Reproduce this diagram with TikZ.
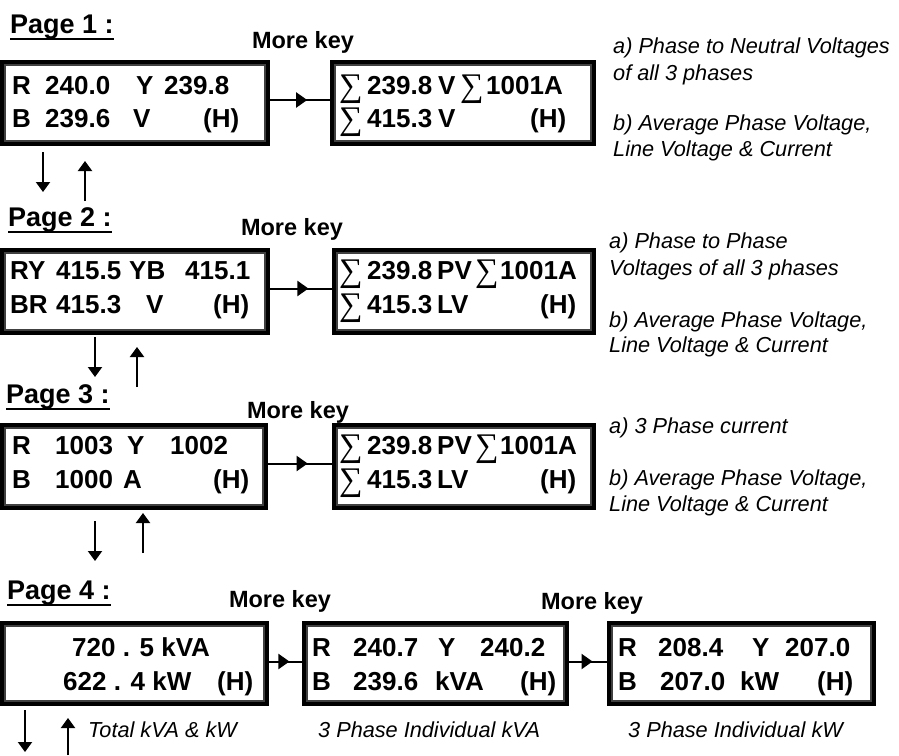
\documentclass[tikz,border=0pt]{standalone}
\usepackage{fontspec}
\setmainfont{Liberation Sans}
\newfontfamily\sumfont{Liberation Serif}
\usetikzlibrary{arrows.meta,decorations.markings}
\tikzset{
 lcd/.style={draw, line width=4pt, inner sep=0pt},
 lcdin/.style={draw=black!75, line width=1.3pt},
 val/.style={anchor=base west, inner sep=0pt, font=\fontsize{26}{30}\selectfont\bfseries},
 sumsym/.style={anchor=base west, inner sep=0pt, font=\sumfont\fontsize{33}{40}\selectfont},
 pagelbl/.style={anchor=base west, inner sep=0pt, font=\fontsize{27}{30}\selectfont\bfseries},
 morekey/.style={anchor=base, inner sep=0pt, font=\fontsize{23.5}{26}\selectfont\bfseries},
 note/.style={anchor=base west, inner sep=0pt, font=\fontsize{21.7}{25}\selectfont\itshape},
 conn/.style={line width=2pt, postaction={decorate}, decoration={markings, mark=at position 0.62 with {\arrow{Triangle[length=11pt,width=15pt]}}}},
 varrow/.style={line width=2pt, -{Triangle[length=10pt,width=14pt]}},
 uline/.style={line width=2pt},
}
\newcommand\lcdbox[5]{%
 \node[lcd, minimum width=#4pt, minimum height=#5pt] (#1) at (#2,#3) {};
 \draw[lcdin] ([shift={(5,5)}]#1.north west) rectangle ([shift={(-5,-5)}]#1.south east);}
\newcommand\lcdtext[4]{\node[val] (#1) at (#2,#3) {#4};}
\newcommand\sumtext[3]{\node[sumsym] (#1) at (#2,#3) {∑};}
\newcommand\pagetext[4]{\node[pagelbl] (#1) at (#2,#3) {#4};
 \draw[uline] (#1.south west) -- (#1.south east);}
\newcommand\notetext[4]{\node[note] (#1) at (#2,#3) {#4};}
\newcommand\navarrow[4]{\coordinate (#1s) at (#2,#3); \coordinate (#1e) at (#2,#4);
 \draw[varrow] (#1s) -- (#1e);}
\begin{document}
\begin{tikzpicture}[x=1pt,y=-1pt]
\useasboundingbox (0,0) rectangle (899,755);

% ---------- Page 1 ----------
\pagetext{p1}{10}{33}{Page 1 :}
\node[morekey] (mk1) at (303,48) {More key};
\lcdbox{b11}{135}{103}{266}{82}
\lcdbox{b12}{463}{103}{262}{82}
\draw[conn] ([yshift=3pt]b11.east) -- ([yshift=3pt]b12.west);
\lcdtext{t11a}{12}{94}{R}
\lcdtext{t11b}{45}{94}{240.0}
\lcdtext{t11c}{136}{94}{Y}
\lcdtext{t11d}{164}{94}{239.8}
\lcdtext{t11e}{12}{127}{B}
\lcdtext{t11f}{45}{127}{239.6}
\lcdtext{t11g}{133}{127}{V}
\lcdtext{t11h}{203}{127}{(H)}
\sumtext{s12a}{339}{96}
\lcdtext{t12a}{367}{94}{239.8}
\lcdtext{t12b}{438}{94}{V}
\sumtext{s12b}{460}{96}
\lcdtext{t12c}{486}{94}{1001A}
\sumtext{s12c}{339}{129}
\lcdtext{t12d}{367}{127}{415.3}
\lcdtext{t12e}{438}{127}{V}
\lcdtext{t12f}{530}{127}{(H)}
\notetext{n1a}{613}{53}{a) Phase to Neutral Voltages}
\notetext{n1b}{613}{80}{of all 3 phases}
\notetext{n1c}{613}{130}{b) Average Phase Voltage,}
\notetext{n1d}{613}{156}{Line Voltage \& Current}
\navarrow{d1}{43}{152}{192}
\navarrow{u1}{85}{201}{161}

% ---------- Page 2 ----------
\pagetext{p2}{8}{226}{Page 2 :}
\node[morekey] (mk2) at (292,235) {More key};
\lcdbox{b21}{135}{291.5}{266}{83}
\lcdbox{b22}{464}{291.5}{260}{83}
\draw[conn] ([yshift=3pt]b21.east) -- ([yshift=3pt]b22.west);
\lcdtext{t21a}{10}{279}{RY}
\lcdtext{t21b}{56}{279}{415.5}
\lcdtext{t21c}{129}{279}{YB}
\lcdtext{t21d}{185}{279}{415.1}
\lcdtext{t21e}{10}{313}{BR}
\lcdtext{t21f}{56}{313}{415.3}
\lcdtext{t21g}{146}{313}{V}
\lcdtext{t21h}{213}{313}{(H)}
\sumtext{s22a}{339}{281}
\lcdtext{t22a}{367}{279}{239.8}
\lcdtext{t22b}{437}{279}{PV}
\sumtext{s22b}{475}{281}
\lcdtext{t22c}{500}{279}{1001A}
\sumtext{s22c}{339}{315}
\lcdtext{t22d}{367}{313}{415.3}
\lcdtext{t22e}{437}{313}{LV}
\lcdtext{t22f}{540}{313}{(H)}
\notetext{n2a}{609}{248}{a) Phase to Phase}
\notetext{n2b}{609}{275}{Voltages of all 3 phases}
\notetext{n2c}{609}{327}{b) Average Phase Voltage,}
\notetext{n2d}{609}{352}{Line Voltage \& Current}
\navarrow{d2}{95}{337}{377}
\navarrow{u2}{137}{387}{347}

% ---------- Page 3 ----------
\pagetext{p3}{6}{403}{Page 3 :}
\node[morekey] (mk3) at (298,418) {More key};
\lcdbox{b31}{134}{466.5}{264}{83}
\lcdbox{b32}{464}{466.5}{260}{83}
\draw[conn] ([yshift=3pt]b31.east) -- ([yshift=3pt]b32.west);
\lcdtext{t31a}{12}{454}{R}
\lcdtext{t31b}{55}{454}{1003}
\lcdtext{t31c}{127}{454}{Y}
\lcdtext{t31d}{170}{454}{1002}
\lcdtext{t31e}{12}{488}{B}
\lcdtext{t31f}{55}{488}{1000}
\lcdtext{t31g}{123}{488}{A}
\lcdtext{t31h}{213}{488}{(H)}
\sumtext{s32a}{339}{456}
\lcdtext{t32a}{367}{454}{239.8}
\lcdtext{t32b}{437}{454}{PV}
\sumtext{s32b}{475}{456}
\lcdtext{t32c}{500}{454}{1001A}
\sumtext{s32c}{339}{490}
\lcdtext{t32d}{367}{488}{415.3}
\lcdtext{t32e}{437}{488}{LV}
\lcdtext{t32f}{540}{488}{(H)}
\notetext{n3a}{609}{433}{a) 3 Phase current}
\notetext{n3c}{609}{485}{b) Average Phase Voltage,}
\notetext{n3d}{609}{511}{Line Voltage \& Current}
\navarrow{d3}{95}{521}{561}
\navarrow{u3}{143}{553}{513}

% ---------- Page 4 ----------
\pagetext{p4}{7}{599}{Page 4 :}
\node[morekey] (mk4a) at (280,607) {More key};
\node[morekey] (mk4b) at (592,609) {More key};
\lcdbox{b41}{134.5}{663.5}{265}{81}
\lcdbox{b42}{435.5}{663.5}{263}{81}
\lcdbox{b43}{741.5}{663.5}{265}{81}
\draw[conn] ([yshift=2pt]b41.east) -- ([yshift=2pt]b42.west);
\draw[conn] ([yshift=2pt]b42.east) -- ([yshift=2pt]b43.west);
\lcdtext{t41a}{72}{656}{720 . 5 kVA}
\lcdtext{t41b}{63}{690}{622 . 4 kW}
\lcdtext{t41c}{217}{690}{(H)}
\lcdtext{t42a}{312}{656}{R}
\lcdtext{t42b}{353}{656}{240.7}
\lcdtext{t42c}{438}{656}{Y}
\lcdtext{t42d}{480}{656}{240.2}
\lcdtext{t42e}{312}{690}{B}
\lcdtext{t42f}{353}{690}{239.6}
\lcdtext{t42g}{435}{690}{kVA}
\lcdtext{t42h}{520}{690}{(H)}
\lcdtext{t43a}{618}{656}{R}
\lcdtext{t43b}{658}{656}{208.4}
\lcdtext{t43c}{752}{656}{Y}
\lcdtext{t43d}{785}{656}{207.0}
\lcdtext{t43e}{618}{690}{B}
\lcdtext{t43f}{660}{690}{207.0}
\lcdtext{t43g}{740}{690}{kW}
\lcdtext{t43h}{817}{690}{(H)}
\notetext{c41}{88}{737}{Total kVA \& kW}
\notetext{c42}{318}{737}{3 Phase Individual kVA}
\notetext{c43}{628}{737}{3 Phase Individual kW}
\navarrow{d4}{25}{710}{752}
\navarrow{u4}{68}{755}{718}
\end{tikzpicture}
\end{document}
